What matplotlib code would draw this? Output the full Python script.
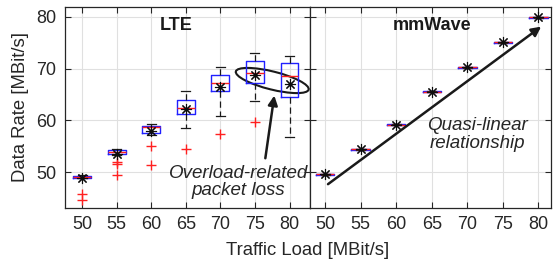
import matplotlib
matplotlib.use('Agg')
import matplotlib.pyplot as plt
from matplotlib.patches import Ellipse
from matplotlib.transforms import ScaledTranslation

plt.rcParams['font.family'] = ['Liberation Sans', 'DejaVu Sans']

# traffic load [MBit/s]
loads = [50, 55, 60, 65, 70, 75, 80]

# LTE box statistics [MBit/s]
lte_lo = [48.8, 53.4, 57.2, 58.5, 60.8, 63.8, 56.8]
lte_q1 = [48.9, 53.6, 57.5, 61.2, 65.6, 67.2, 64.6]
lte_med = [49.1, 54.0, 58.7, 62.4, 67.2, 69.1, 68.5]
lte_q3 = [49.3, 54.2, 59.0, 64.0, 68.7, 71.5, 71.1]
lte_hi = [49.5, 54.4, 59.3, 65.6, 70.4, 73.0, 72.4]
lte_mean = [48.9, 53.5, 58.0, 62.3, 66.5, 68.8, 67.0]
lte_out = [[45.8, 44.7], [52.0, 51.5, 49.4], [55.0, 51.4], [54.5], [57.3], [59.6], []]

# mmWave box statistics [MBit/s]
mm_q1 = [49.5, 54.3, 59.1, 65.4, 70.2, 75.0, 79.8]
mm_med = [49.6, 54.4, 59.2, 65.5, 70.3, 75.1, 79.9]
mm_q3 = [49.7, 54.5, 59.3, 65.6, 70.4, 75.2, 80.0]
mm_mean = [49.6, 54.4, 59.2, 65.5, 70.3, 75.1, 79.9]


def make_stats(lo, q1, med, q3, hi, mean, out):
    stats = []
    for i in range(len(med)):
        stats.append(dict(whislo=lo[i], q1=q1[i], med=med[i], q3=q3[i],
                          whishi=hi[i], mean=mean[i], fliers=out[i]))
    return stats


def draw_boxes(ax, stats):
    ax.bxp(stats, positions=loads, widths=2.6, showmeans=True,
           boxprops=dict(color='#2020ff', lw=1.0),
           medianprops=dict(color='#ff2020', lw=1.0),
           whiskerprops=dict(color='0.1', lw=0.9, linestyle=(0, (5, 3))),
           capprops=dict(color='0.1', lw=0.9),
           flierprops=dict(marker='+', markeredgecolor='#ff2020',
                           markersize=7, markeredgewidth=1.0, linestyle='none'),
           meanprops=dict(marker=(8, 2, 0), markeredgecolor='0.05',
                          markerfacecolor='0.05', markersize=8,
                          markeredgewidth=0.8))


def style_ax(ax, xlim):
    ax.set_xlim(xlim)
    ax.set_ylim(43.1, 81.9)
    ax.set_xticks(loads)
    ax.set_xticklabels([str(v) for v in loads])
    ax.set_yticks([50, 60, 70, 80])
    ax.grid(True, color='0.88', lw=0.8)
    ax.set_axisbelow(True)
    ax.tick_params(direction='in', top=True, right=True, labelsize=13,
                   length=4, color='0.15', labelcolor='0.15', pad=6)
    for s in ax.spines.values():
        s.set_color('0.15')
        s.set_linewidth(0.9)


fig = plt.figure(figsize=(5.55, 2.66), dpi=100)
ax1 = fig.add_axes([0.117, 0.218, 0.442, 0.756])
ax2 = fig.add_axes([0.559, 0.218, 0.434, 0.756])

draw_boxes(ax1, make_stats(lte_lo, lte_q1, lte_med, lte_q3, lte_hi, lte_mean, lte_out))
draw_boxes(ax2, make_stats(mm_q1, mm_q1, mm_med, mm_q3, mm_q3, mm_mean,
                           [[] for _ in loads]))

style_ax(ax1, (47.5, 83.0))
style_ax(ax2, (47.9, 81.8))
ax2.tick_params(labelleft=False)

ax1.set_ylabel('Data Rate [MBit/s]', fontsize=13.3, color='0.15', labelpad=5)
fig.text(0.555, 0.025, 'Traffic Load [MBit/s]', ha='center', va='bottom',
         fontsize=13.3, color='0.15')

ax1.text(63.6, 78.3, 'LTE', ha='center', va='center', fontsize=13,
         fontweight='bold', color='0.1')
ax2.text(65.1, 78.3, 'mmWave', ha='center', va='center', fontsize=13,
         fontweight='bold', color='0.1')

# ellipse around overloaded boxes, sized in inches
tr = fig.dpi_scale_trans + ScaledTranslation(77.5, 67.7, ax1.transData)
ax1.add_patch(Ellipse((0, 0), 0.75, 0.18, angle=-14, transform=tr,
                      fill=False, ec='0.1', lw=1.5, clip_on=False))

ax1.annotate('', xy=(77.8, 64.8), xytext=(76.5, 52.7),
             arrowprops=dict(arrowstyle='-|>', color='0.1', lw=1.8,
                             mutation_scale=14, shrinkA=0, shrinkB=0))
ax1.text(72.6, 48.1, 'Overload-related\npacket loss', ha='center', va='center',
         fontsize=13.5, style='italic', color='0.15', linespacing=1.05)

ax2.annotate('', xy=(80.4, 78.1), xytext=(50.4, 47.7),
             arrowprops=dict(arrowstyle='-|>', color='0.1', lw=1.8,
                             mutation_scale=14, shrinkA=0, shrinkB=0))
ax2.text(71.5, 57.3, 'Quasi-linear\nrelationship', ha='center', va='center',
         fontsize=13.5, style='italic', color='0.15', linespacing=1.05)

fig.savefig('out.png', dpi=100)
